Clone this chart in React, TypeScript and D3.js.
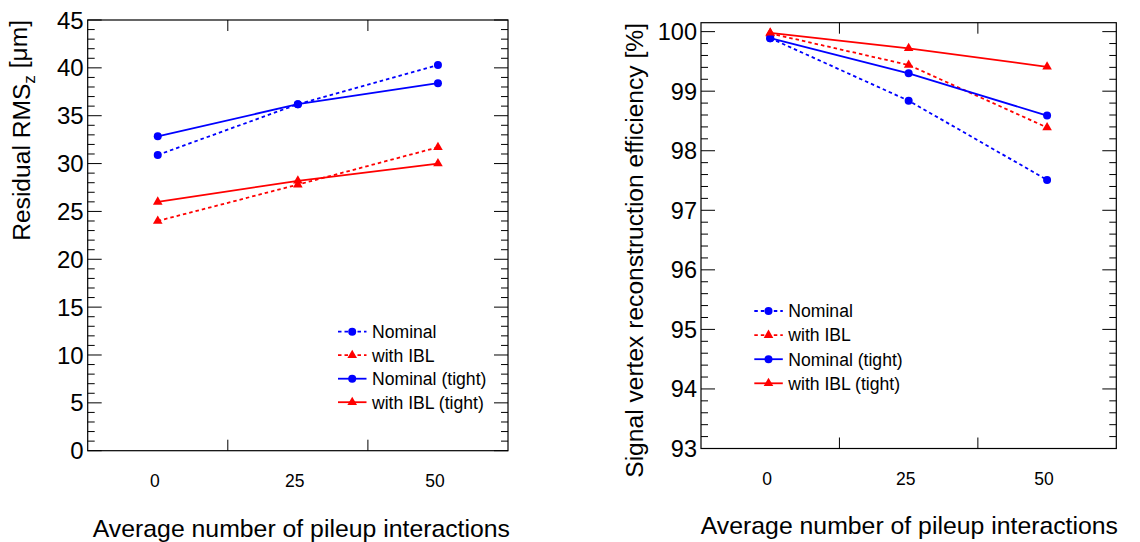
import React from "react";
import * as d3 from "d3";

const pileup = [0, 25, 50];
const xTickLabels = ["0", "25", "50"];

// Left panel: Residual RMS_z [um]
const rmsNominal = [30.9, 36.2, 40.3];
const rmsIBL = [24.0, 27.8, 31.7];
const rmsNominalTight = [32.85, 36.2, 38.4];
const rmsIBLTight = [26.0, 28.2, 30.0];

// Right panel: signal vertex reconstruction efficiency [%]
const effNominal = [99.89, 98.84, 97.51];
const effIBL = [99.97, 99.44, 98.39];
const effNominalTight = [99.89, 99.3, 98.59];
const effIBLTight = [99.98, 99.72, 99.41];

const legendLabels = ["Nominal", "with IBL", "Nominal (tight)", "with IBL (tight)"];
const seriesColors = ["#0000ff", "#ff0000", "#0000ff", "#ff0000"];
const seriesDashed = [true, true, false, false];
const seriesMarker = ["circle", "triangle", "circle", "triangle"];

const FONT = "'Liberation Sans', Arial, Helvetica, sans-serif";

type PanelProps = {
  x0: number; x1: number; y0: number; y1: number;
  yDomain: [number, number];
  yMajor: number[]; yMinor: number[];
  yLabelFmt: (v: number) => string;
  yTickFont: number;
  series: number[][];
  legendX: number; legendY: number; legendStep: number;
  xTitleBaseline: number; xTitleRight: number;
  yTitle: React.ReactNode; yTitleX: number; yTitleY: number;
  xLabelOffset: number;
};

function Marker({ kind, cx, cy, color }: { kind: string; cx: number; cy: number; color: string }) {
  if (kind === "circle") return <circle cx={cx} cy={cy} r={4} fill={color} />;
  const p = d3.symbol().type(d3.symbolTriangle).size(40)();
  return <path d={p || ""} transform={`translate(${cx},${cy})`} fill={color} />;
}

function Panel(props: PanelProps) {
  const { x0, x1, y0, y1 } = props;
  const xs = d3.scaleLinear().domain([-12.5, 62.5]).range([x0, x1]);
  const ys = d3.scaleLinear().domain(props.yDomain).range([y1, y0]);
  const line = d3.line<number>().x((_, i) => xs(pileup[i])).y((d) => ys(d));
  const xMajorTicks = [12.5, 37.5];
  return (
    <g fontFamily={FONT}>
      {props.series.map((s, i) => (
        <path key={"l" + i} d={line(s) || ""} fill="none" stroke={seriesColors[i]}
          strokeWidth={1.8} strokeDasharray={seriesDashed[i] ? "3.5,3" : undefined} />
      ))}
      {props.series.map((s, i) => (
        <g key={"m" + i}>
          {s.map((v, j) => (
            <Marker key={j} kind={seriesMarker[i]} cx={xs(pileup[j])} cy={ys(v)} color={seriesColors[i]} />
          ))}
        </g>
      ))}
      <rect x={x0} y={y0} width={x1 - x0} height={y1 - y0} fill="none" stroke="#000" strokeWidth={1.2} />
      {props.yMinor.map((v, i) => (
        <g key={"ym" + i} stroke="#000" strokeWidth={1}>
          <line x1={x0} x2={x0 + 7} y1={ys(v)} y2={ys(v)} />
          <line x1={x1} x2={x1 - 7} y1={ys(v)} y2={ys(v)} />
        </g>
      ))}
      {props.yMajor.map((v, i) => (
        <g key={"yM" + i}>
          <line x1={x0} x2={x0 + 14} y1={ys(v)} y2={ys(v)} stroke="#000" strokeWidth={1} />
          <line x1={x1} x2={x1 - 14} y1={ys(v)} y2={ys(v)} stroke="#000" strokeWidth={1} />
          <text x={x0 - 4} y={ys(v)} dy="0.36em" textAnchor="end" fontSize={props.yTickFont} fill="#000">
            {props.yLabelFmt(v)}
          </text>
        </g>
      ))}
      {xMajorTicks.map((v, i) => (
        <g key={"xM" + i} stroke="#000" strokeWidth={1}>
          <line x1={xs(v)} x2={xs(v)} y1={y1} y2={y1 - 11} />
          <line x1={xs(v)} x2={xs(v)} y1={y0} y2={y0 + 11} />
        </g>
      ))}
      {pileup.map((v, i) => (
        <text key={"xl" + i} x={xs(v) + props.xLabelOffset} y={y1 + 36} textAnchor="middle" fontSize={17.5} fill="#000">
          {xTickLabels[i]}
        </text>
      ))}
      <text x={props.xTitleRight} y={props.xTitleBaseline} textAnchor="end" fontSize={24.8} fill="#000">
        Average number of pileup interactions
      </text>
      <text transform={`translate(${props.yTitleX},${props.yTitleY}) rotate(-90)`} textAnchor="end" fontSize={24.6} fill="#000">
        {props.yTitle}
      </text>
      {legendLabels.map((lab, i) => {
        const yy = props.legendY + i * props.legendStep;
        const lx = props.legendX;
        return (
          <g key={"lg" + i}>
            <line x1={lx} x2={lx + 28.5} y1={yy} y2={yy} stroke={seriesColors[i]} strokeWidth={1.8}
              strokeDasharray={seriesDashed[i] ? "3.5,3" : undefined} />
            <Marker kind={seriesMarker[i]} cx={lx + 14.2} cy={yy} color={seriesColors[i]} />
            <text x={lx + 34} y={yy} dy="0.36em" fontSize={17.6} fill="#000">{lab}</text>
          </g>
        );
      })}
    </g>
  );
}

export default function App() {
  const leftMajor = d3.range(0, 46, 5);
  const leftMinor = d3.range(0, 45.01, 1).filter((v) => v % 5 !== 0);
  const rightMajor = d3.range(93, 100.01, 1);
  const rightMinor = d3.range(0, 36).map((i) => 93 + i * 0.2).filter((v) => Math.abs(v - Math.round(v)) > 1e-6 && v < 100.15);
  return (
    <svg width={1140} height={542} style={{ position: "absolute", left: 0, top: 0, background: "#fff" }}>
      <rect width={1140} height={542} fill="#fff" />
      <Panel
        x0={87.7} x1={508} y0={20} y1={450.7}
        yDomain={[0, 45]} yMajor={leftMajor} yMinor={leftMinor}
        yLabelFmt={(v) => String(v)} yTickFont={24}
        series={[rmsNominal, rmsIBL, rmsNominalTight, rmsIBLTight]}
        legendX={338} legendY={331.7} legendStep={23.5}
        xTitleBaseline={537} xTitleRight={510}
        yTitle={<><tspan>Residual RMS</tspan><tspan fontSize={17} dy="0.3em">z</tspan><tspan dy="-0.3em"> [μm]</tspan></>}
        yTitleX={29.5} yTitleY={20}
        xLabelOffset={-3}
      />
      <Panel
        x0={701} x1={1116.3} y0={22.7} y1={448.5}
        yDomain={[93, 100.15]} yMajor={rightMajor} yMinor={rightMinor}
        yLabelFmt={(v) => String(Math.round(v))} yTickFont={23.5}
        series={[effNominal, effIBL, effNominalTight, effIBLTight]}
        legendX={754.3} legendY={311} legendStep={24.1}
        xTitleBaseline={533.5} xTitleRight={1118}
        yTitle={"Signal vertex reconstruction efficiency [%]"}
        yTitleX={642.5} yTitleY={23}
        xLabelOffset={-3}
      />
    </svg>
  );
}
